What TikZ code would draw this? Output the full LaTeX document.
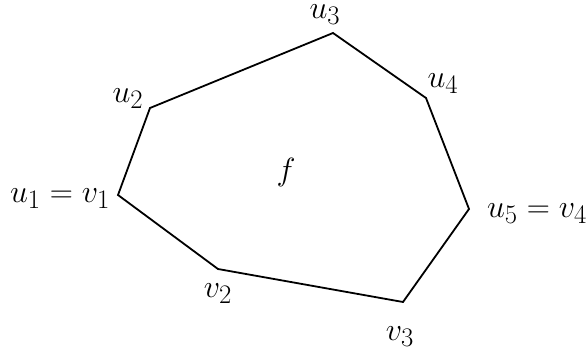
\documentclass[tikz,border=0pt]{standalone}
\usepackage{graphicx}
\newcommand{\biglab}[1]{\scalebox{1.29}{\Huge$#1$}}
\begin{document}
\begin{tikzpicture}[x=1pt,y=-1pt,
  edge/.style={line width=1.8pt, line join=miter},
  lbl/.style={inner sep=0pt, anchor=base}]
\useasboundingbox (0,0) rectangle (588,348);
\coordinate (u1) at (118,195);
\coordinate (u2) at (150,108);
\coordinate (u3) at (333,33);
\coordinate (u4) at (426,98);
\coordinate (u5) at (469,209);
\coordinate (v3) at (403,302);
\coordinate (v2) at (218,269);
\draw[edge] (u1) -- (u2) -- (u3) -- (u4) -- (u5) -- (v3) -- (v2) -- cycle;
\node[lbl] (lu1) at (60,202) {\biglab{u_1=v_1}};
\node[lbl] (lu2) at (128,102) {\biglab{u_2}};
\node[lbl] (lu3) at (325,18) {\biglab{u_3}};
\node[lbl] (lu4) at (443,87) {\biglab{u_4}};
\node[lbl] (lu5) at (537,217) {\biglab{u_5=v_4}};
\node[lbl] (lv2) at (218,297) {\biglab{v_2}};
\node[lbl] (lv3) at (400,340) {\biglab{v_3}};
\node[lbl] (f) at (286,180) {\biglab{f}};
\end{tikzpicture}
\end{document}
